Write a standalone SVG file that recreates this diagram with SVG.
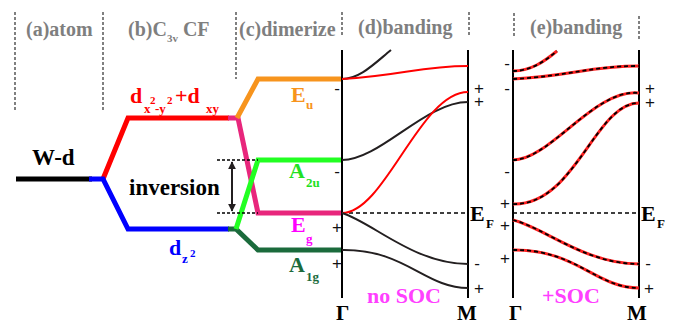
<svg xmlns="http://www.w3.org/2000/svg" width="673" height="325" viewBox="0 0 673 325">
<defs>
<marker id="ah" viewBox="0 0 10 10" refX="9" refY="5" markerWidth="4" markerHeight="4" orient="auto-start-reverse"><path d="M0,0 L10,5 L0,10 z" fill="#231f20"/></marker>
<style>
.hd{font-family:"Liberation Serif",serif;font-weight:bold;font-size:20px;fill:#7f7f7f}
.sep{stroke:#808080;stroke-width:2;stroke-dasharray:3 2;fill:none}
.lv{fill:none;stroke-width:5;stroke-linejoin:miter}
.lab{font-family:"Liberation Serif",serif;font-weight:bold}
.sg{font-family:"Liberation Sans",sans-serif;font-size:17px;fill:#111;text-anchor:middle}
.ax{stroke:#000;stroke-width:2;fill:none}
.ef{stroke:#000;stroke-width:1.5;stroke-dasharray:4 3;fill:none}
.bk{stroke:#231f20;stroke-width:2;fill:none}
.rd{stroke:#ff0000;stroke-width:2;fill:none}
.sr{stroke:#ff2020;stroke-width:3;fill:none}
.sb{stroke:#000;stroke-width:1.8;stroke-dasharray:4 3;fill:none}
</style>
</defs>
<rect width="673" height="325" fill="#fff"/>

<g id="headers">
<line class="sep" x1="15" y1="12" x2="15" y2="112"/>
<line class="sep" x1="103" y1="12" x2="103" y2="112"/>
<line class="sep" x1="236" y1="12" x2="236" y2="79"/>
<line class="sep" x1="342" y1="12" x2="342" y2="37"/>
<line class="sep" x1="469" y1="12" x2="469" y2="37"/>
<line class="sep" x1="514" y1="13" x2="514" y2="37"/>
<line class="sep" x1="639" y1="16" x2="639" y2="40"/>
<text class="hd" x="26" y="36">(a)atom</text>
<text class="hd" x="128" y="36">(b)C<tspan font-size="11" dy="6">3v</tspan><tspan dy="-6"> CF</tspan></text>
<text class="hd" x="239" y="36">(c)dimerize</text>
<text class="hd" x="358" y="34">(d)banding</text>
<text class="hd" x="530" y="34">(e)banding</text>
</g>

<g id="levels">
<path class="lv" stroke="#000" d="M16,179 H92"/>
<path class="lv" stroke="#ff0000" d="M103,179 L128,118 H229"/>
<path class="lv" stroke="#0000ff" d="M89,179 H103 L128,229 H229"/>
<path class="lv" stroke="#e8267c" d="M228,118 H238 L258,213 H342"/>
<path class="lv" stroke="#f7941d" d="M237,118 L258,79 H342"/>
<path class="lv" stroke="#1b6b3c" d="M228,229 H236 L258,250 H342"/>
<path class="lv" stroke="#22ff22" d="M236,229 L258,160 H342"/>
</g>

<g id="labels">
<text class="lab" x="32" y="165" font-size="23">W-d</text>
<text class="lab" x="129" y="195" font-size="23">inversion</text>
<text class="lab" fill="#ff0000" font-size="22"><tspan x="130" y="103">d</tspan><tspan x="144" y="113" font-size="13">x</tspan><tspan x="150" y="104" font-size="11">2</tspan><tspan x="155" y="113" font-size="13">-y</tspan><tspan x="167" y="104" font-size="11">2</tspan><tspan x="175" y="103">+d</tspan><tspan x="206" y="113" font-size="13">xy</tspan></text>
<text class="lab" fill="#0000ff" font-size="22"><tspan x="169" y="255">d</tspan><tspan x="182" y="263" font-size="13">z</tspan><tspan x="190" y="257" font-size="11">2</tspan></text>
<text class="lab" fill="#f7941d" font-size="22"><tspan x="291" y="102">E</tspan><tspan x="306" y="109" font-size="13">u</tspan></text>
<text class="lab" fill="#22e022" font-size="22"><tspan x="289" y="178">A</tspan><tspan x="306" y="187" font-size="13">2u</tspan></text>
<text class="lab" fill="#ff00ff" font-size="22"><tspan x="291" y="232">E</tspan><tspan x="306" y="243" font-size="13">g</tspan></text>
<text class="lab" fill="#1b6b3c" font-size="22"><tspan x="289" y="272">A</tspan><tspan x="306" y="281" font-size="13">1g</tspan></text>
</g>

<g id="inversion-arrow">
<line x1="217" y1="160" x2="258" y2="160" stroke="#000" stroke-width="1.3" stroke-dasharray="3 2"/>
<line x1="217" y1="213" x2="258" y2="213" stroke="#000" stroke-width="1.3" stroke-dasharray="3 2"/>
<line x1="232" y1="162" x2="232" y2="211" stroke="#231f20" stroke-width="2" marker-start="url(#ah)" marker-end="url(#ah)"/>
</g>

<g id="panel-d">
<line class="ax" x1="342" y1="50" x2="342" y2="298"/>
<line class="ax" x1="468" y1="50" x2="468" y2="298"/>
<line class="ef" x1="342" y1="213" x2="468" y2="213"/>
<path class="bk" d="M342,79 C360,79 375,63 391,50"/>
<path class="rd" d="M342,79 C400,76 420,66 468,66"/>
<path class="bk" d="M342,160 C380,160 425,102 468,102"/>
<path class="rd" d="M342,213 C385,213 420,92 468,92"/>
<path class="bk" d="M342,213 C372,222 414,264 468,264"/>
<path class="bk" d="M342,250 C405,249 425,288 468,288"/>
</g>

<g id="panel-e">
<line class="ax" x1="513" y1="50" x2="513" y2="298"/>
<line class="ax" x1="639" y1="50" x2="639" y2="298"/>
<line class="ef" x1="513" y1="213" x2="639" y2="213"/>
<path class="sr" d="M513,71 C531,71 545,61 557,51"/>
<path class="sb" d="M513,71 C531,71 545,61 557,51"/>
<path class="sr" d="M513,79 C570,76 590,66 639,66"/>
<path class="sb" d="M513,79 C570,76 590,66 639,66"/>
<path class="sr" d="M513,160 C550,160 595,88 639,93"/>
<path class="sb" d="M513,160 C550,160 595,88 639,93"/>
<path class="sr" d="M513,204 C575,206 595,103 639,103"/>
<path class="sb" d="M513,204 C575,206 595,103 639,103"/>
<path class="sr" d="M513,220 C545,228 585,264 639,264"/>
<path class="sb" d="M513,220 C545,228 585,264 639,264"/>
<path class="sr" d="M513,250 C576,249 596,288 639,288"/>
<path class="sb" d="M513,250 C576,249 596,288 639,288"/>
</g>

<g id="signs">
<text class="sg" x="337" y="94">-</text>
<text class="sg" x="337" y="177">-</text>
<text class="sg" x="337" y="233">+</text>
<text class="sg" x="337" y="269">+</text>
<text class="sg" x="479" y="94">+</text>
<text class="sg" x="479" y="107">+</text>
<text class="sg" x="477" y="269">-</text>
<text class="sg" x="479" y="294">+</text>
<text class="sg" x="507" y="69">-</text>
<text class="sg" x="507" y="94">-</text>
<text class="sg" x="507" y="177">-</text>
<text class="sg" x="505" y="209">+</text>
<text class="sg" x="505" y="231">+</text>
<text class="sg" x="505" y="264">+</text>
<text class="sg" x="650" y="94">+</text>
<text class="sg" x="650" y="108">+</text>
<text class="sg" x="648" y="269">-</text>
<text class="sg" x="649" y="294">+</text>
</g>

<g id="axis-labels">
<text class="lab" font-size="21" x="336" y="320">Γ</text>
<text class="lab" font-size="21" x="457" y="320">M</text>
<text class="lab" font-size="21" x="509" y="320">Γ</text>
<text class="lab" font-size="21" x="627" y="320">M</text>
<text class="lab" font-size="22"><tspan x="470" y="221">E</tspan><tspan x="486" y="228" font-size="13">F</tspan></text>
<text class="lab" font-size="22"><tspan x="641" y="221">E</tspan><tspan x="657" y="228" font-size="13">F</tspan></text>
<text class="lab" font-size="22" fill="#ff40ff" x="367" y="303">no SOC</text>
<text class="lab" font-size="22" fill="#ff40ff" x="542" y="303">+SOC</text>
</g>
</svg>
